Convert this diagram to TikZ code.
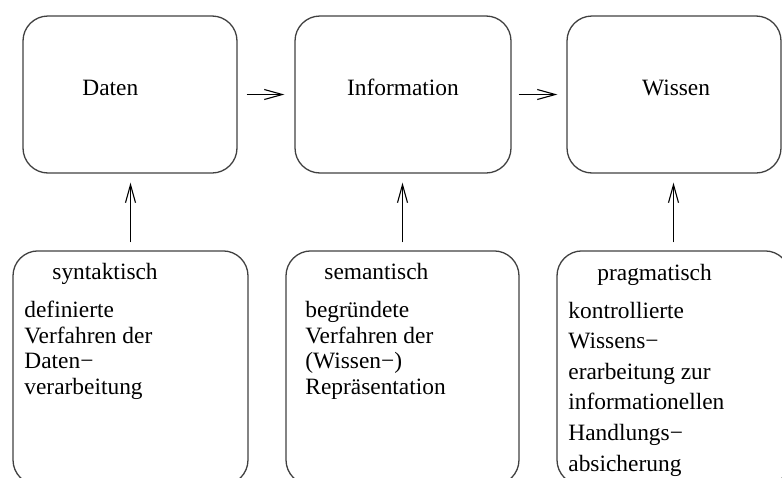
\documentclass[tikz,border=0pt]{standalone}
\usepackage{fontspec}
\setmainfont{Liberation Serif}
\usetikzlibrary{arrows.meta}
\begin{document}
\begin{tikzpicture}[x=0.5pt,y=-0.5pt,
  topbox/.style={draw=black!75, line width=0.65pt, rounded corners=12.5pt, minimum width=107pt, minimum height=78.5pt, inner sep=0pt},
  botbox/.style={draw=black!75, line width=0.65pt, rounded corners=12.5pt, minimum width=116.5pt, minimum height=117pt, inner sep=0pt},
  lbl/.style={inner sep=0pt, anchor=base west, font=\fontsize{11.7}{12.75}\selectfont},
  body/.style={inner sep=0pt, anchor=base west, align=left, font=\fontsize{11.7}{12.75}\selectfont},
  bodywide/.style={body, font=\fontsize{11.7}{15.3}\selectfont},
  conn/.style={draw=black, line width=0.55pt, -{Straight Barb[length=9pt,width=5pt]}}
]
\useasboundingbox (0,0) rectangle (782,477);
\clip (0,0) rectangle (782,477);
% top boxes
\node[topbox] (daten) at (130,94.5) {};
\node[topbox, minimum width=108pt] (info) at (403,94.5) {};
\node[topbox] (wissen) at (674,94.5) {};
% bottom boxes
\node[botbox, minimum width=117.5pt] (syn) at (130.5,367.9) {};
\node[botbox] (sem) at (402.5,367.9) {};
\node[botbox] (prag) at (673.5,367.9) {};
% labels
\node[lbl] (tDaten) at (82,95.5) {Daten};
\node[lbl] (tInfo) at (346.7,95.5) {Information};
\node[lbl] (tWissen) at (641.7,95.5) {Wissen};
\node[lbl] (hSyn) at (52,279) {syntaktisch};
\node[lbl] (hSem) at (324,279) {semantisch};
\node[lbl] (hPrag) at (597,280) {pragmatisch};
% body texts (base anchor = baseline of the last line)
\node[body] (bSyn) at (24,394) {definierte\\Verfahren der\\Daten−\\verarbeitung};
\node[body] (bSem) at (305,394) {begründete\\Verfahren der\\(Wissen−)\\Repräsentation};
\node[bodywide] (bPrag) at (568,471) {kontrollierte\\Wissens−\\erarbeitung zur\\informationellen\\Handlungs−\\absicherung};
% connectors
\draw[conn, shorten <=4.5pt, shorten >=5pt] (daten.east) -- (info.west);
\draw[conn, shorten <=3.5pt, shorten >=4.5pt] (info.east) -- (wissen.west);
\draw[conn, shorten <=4pt, shorten >=4.5pt] (syn.north) -- (syn.north |- daten.south);
\draw[conn, shorten <=4pt, shorten >=4.5pt] (sem.north) -- (sem.north |- info.south);
\draw[conn, shorten <=4pt, shorten >=4.5pt] (prag.north) -- (prag.north |- wissen.south);
\end{tikzpicture}
\end{document}
